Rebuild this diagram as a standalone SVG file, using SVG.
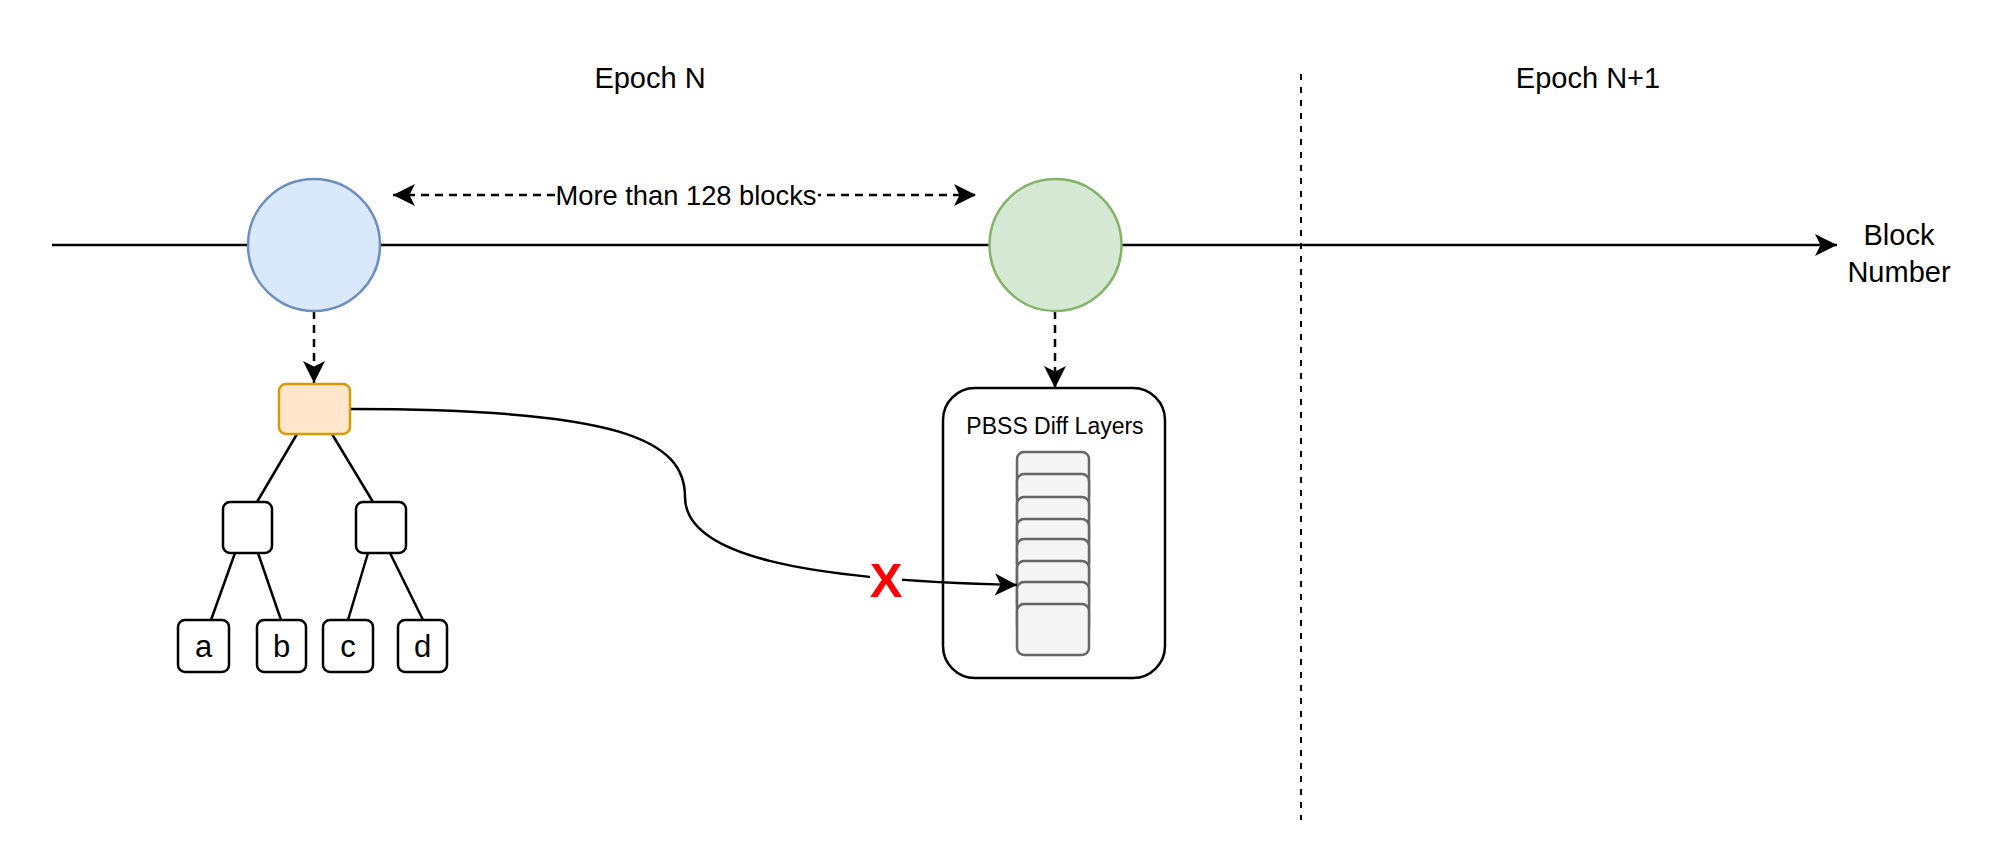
<svg xmlns="http://www.w3.org/2000/svg" width="1999" height="846" viewBox="0 0 1999 846">
<style>
.t{font-family:"Liberation Sans",Arial,Helvetica,sans-serif;fill:#000;}
.ln{fill:none;stroke:#000;stroke-width:2.5;}
.dash{fill:none;stroke:#000;stroke-width:2.5;stroke-dasharray:8 6;}
.box{fill:#fff;stroke:#000;stroke-width:2.5;}
.layer{fill:#f5f5f5;stroke:#666;stroke-width:2.5;}
</style>
<defs>
<marker id="arr" viewBox="-24 -12 26 24" refX="0" refY="0" markerWidth="26" markerHeight="24" markerUnits="userSpaceOnUse" orient="auto-start-reverse">
<path d="M0,0 L-22,-11 L-16.5,0 L-22,11 Z" fill="#000"/>
</marker>
</defs>
<rect width="1999" height="846" fill="#fff"/>
<g id="labels">
<text class="t" x="650" y="88" font-size="29" text-anchor="middle">Epoch N</text>
<text class="t" x="1588" y="88" font-size="29" text-anchor="middle">Epoch N+1</text>
<text class="t" x="1899" y="245" font-size="29" text-anchor="middle">Block</text>
<text class="t" x="1899" y="282" font-size="29" text-anchor="middle">Number</text>
</g>
<g id="connectors">
<line x1="1301" y1="74" x2="1301" y2="820" stroke="#000" stroke-width="2" stroke-dasharray="6 7"/>
<line class="ln" x1="52" y1="245" x2="1837" y2="245" marker-end="url(#arr)"/>
<line class="dash" x1="393" y1="195" x2="976" y2="195" marker-start="url(#arr)" marker-end="url(#arr)"/>
<rect x="555" y="178" width="263" height="34" fill="#fff"/>
<text class="t" x="686" y="205" font-size="27.3" text-anchor="middle">More than 128 blocks</text>
<line class="dash" x1="314" y1="311" x2="314" y2="383" marker-end="url(#arr)"/>
<line class="dash" x1="1055" y1="311" x2="1055" y2="388" marker-end="url(#arr)"/>
<line class="ln" x1="297" y1="434" x2="257" y2="502"/>
<line class="ln" x1="332" y1="434" x2="373" y2="502"/>
<line class="ln" x1="235" y1="553" x2="211" y2="620"/>
<line class="ln" x1="258" y1="553" x2="281" y2="620"/>
<line class="ln" x1="368" y1="553" x2="348" y2="620"/>
<line class="ln" x1="390" y1="553" x2="423" y2="620"/>
</g>
<g id="node-blue"><circle cx="314" cy="245" r="66" fill="#dae8fc" stroke="#6c8ebf" stroke-width="2.5"/></g>
<g id="node-green"><circle cx="1055.5" cy="245" r="66" fill="#d5e8d4" stroke="#82b366" stroke-width="2.5"/></g>
<g id="node-root"><rect x="279" y="384" width="71" height="50" rx="7" fill="#ffe6cc" stroke="#d79b00" stroke-width="2.5"/></g>
<g id="node-mid-left"><rect class="box" x="223" y="502" width="49" height="51" rx="7"/></g>
<g id="node-mid-right"><rect class="box" x="356" y="502" width="50" height="51" rx="7"/></g>
<g id="node-a"><rect class="box" x="178" y="620" width="51" height="52" rx="7"/><text class="t" x="203.5" y="657" font-size="31" text-anchor="middle">a</text></g>
<g id="node-b"><rect class="box" x="257" y="620" width="49" height="52" rx="7"/><text class="t" x="281.5" y="657" font-size="31" text-anchor="middle">b</text></g>
<g id="node-c"><rect class="box" x="323" y="620" width="50" height="52" rx="7"/><text class="t" x="348" y="657" font-size="31" text-anchor="middle">c</text></g>
<g id="node-d"><rect class="box" x="398" y="620" width="49" height="52" rx="7"/><text class="t" x="422.5" y="657" font-size="31" text-anchor="middle">d</text></g>
<g id="node-pbss">
<rect class="box" x="943" y="388" width="222" height="290" rx="32"/>
<text class="t" x="1055" y="434" font-size="23" text-anchor="middle">PBSS Diff Layers</text>
<rect class="layer" x="1017" y="452" width="72" height="51" rx="7"/>
<rect class="layer" x="1017" y="474" width="72" height="51" rx="7"/>
<rect class="layer" x="1017" y="497" width="72" height="51" rx="7"/>
<rect class="layer" x="1017" y="519" width="72" height="51" rx="7"/>
<rect class="layer" x="1017" y="539" width="72" height="51" rx="7"/>
<rect class="layer" x="1017" y="561" width="72" height="51" rx="7"/>
<rect class="layer" x="1017" y="582" width="72" height="51" rx="7"/>
<rect class="layer" x="1017" y="604" width="72" height="51" rx="7"/>
</g>
<g id="connector-curve">
<path class="ln" d="M351,409 C620,409 685,440 685,497 C685,555 800,580 1017,585" marker-end="url(#arr)"/>
<rect x="870" y="560" width="32" height="40" fill="#fff"/>
<text x="886" y="597" font-size="49" font-weight="bold" text-anchor="middle" fill="#ff0000" font-family="Liberation Sans,Arial,sans-serif">X</text>
</g>
</svg>
